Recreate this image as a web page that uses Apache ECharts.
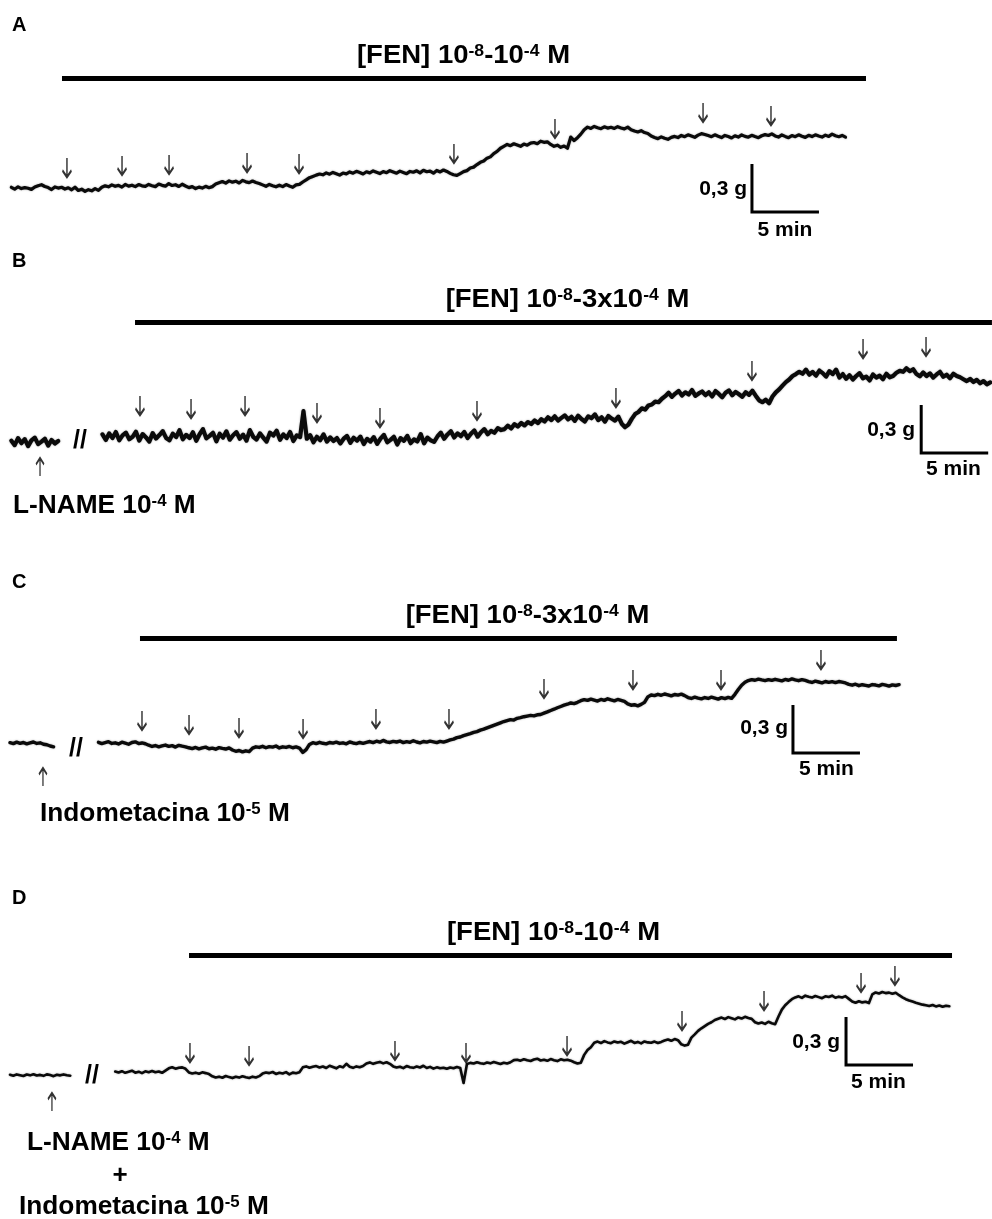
<!DOCTYPE html>
<html>
<head>
<meta charset="utf-8">
<script src="https://cdn.jsdelivr.net/npm/echarts@6/dist/echarts.min.js"></script>
<style>
  html, body { margin: 0; padding: 0; background: #ffffff; }
  #chart { width: 992px; height: 1219px; }
</style>
</head>
<body>
<div id="chart"></div>
<script>
// Isometric tension recordings of aortic rings, phenylephrine [FEN] cumulative curves.
// Tension in mg, sampled every STEP minutes.
const STEP = 0.25;

// ---- A: control ----
const startA = 0.1;
const traceA = [
  392,380,395,384,390,386,379,394,402,408,397,390,378,394,387,392,381,389,376,392,
  372,380,366,377,370,384,373,392,401,395,407,398,404,393,410,399,405,396,409,401,
  398,410,402,396,412,404,399,415,403,408,397,411,400,390,396,384,393,387,398,389,
  396,412,420,428,418,432,424,430,419,435,426,421,431,422,416,407,398,410,402,395,
  405,396,409,400,392,407,410,425,438,452,460,468,475,470,482,474,485,477,468,481,
  476,488,480,492,484,475,489,482,494,486,478,490,483,496,488,480,493,485,477,491,
  486,495,482,498,489,493,480,497,488,500,491,479,470,466,478,490,496,512,518,534,
  548,556,574,582,603,616,636,648,660,652,664,656,648,662,655,668,672,664,680,673,
  676,660,648,655,642,650,636,706,684,702,724,752,768,760,772,764,758,770,762,767,
  760,771,763,757,768,752,744,738,746,734,728,712,703,696,707,698,692,704,710,703,
  716,708,720,712,704,718,727,722,715,708,720,711,703,716,709,700,714,706,719,710,
  705,717,709,702,714,721,716,726,713,706,719,710,702,715,708,720,711,704,717,709,
  720,712,706,718,710,724,714,708,716,705
];
const arrowsA = [[4.25,456],[8.36,469],[11.87,475],[17.69,487],[21.57,481],[33.13,544],[40.67,700],[51.72,800],[56.79,781]];
const barA = [3.88, 63.88, 1072];      // drug period: start, end (min), drawn level (mg)
const scaleA = [55.37, 238];           // scale bar corner (min, mg)

// ---- B: L-NAME 10^-4 M ----
const startB0 = 0.1;
const baseB = [246,218,262,230,255,212,248,265,224,240,258,215,250,228,244];
const startB = 6.9;
const traceB = [
  285,250,291,262,300,248,279,296,255,270,302,246,287,266,240,293,259,281,305,263,
  248,290,268,311,254,282,262,298,245,286,318,260,276,295,242,289,265,304,252,280,
  299,258,283,246,312,270,253,291,265,240,296,278,308,251,285,262,300,244,279,268,
  430,258,280,236,270,249,285,240,266,244,262,228,258,275,232,264,246,271,225,257,
  240,268,226,259,282,236,251,270,222,262,245,276,230,254,241,287,229,265,248,238,
  272,296,258,285,305,266,291,274,300,262,289,310,271,298,318,286,307,295,324,312,
  318,340,322,349,334,356,341,362,350,372,356,380,366,392,375,398,372,388,404,379,
  395,370,402,381,366,398,386,410,374,392,365,400,384,371,396,352,330,346,382,412,
  425,448,440,466,472,490,486,508,524,545,520,540,556,528,548,534,562,526,541,553,
  530,548,522,556,538,517,545,560,529,551,536,520,549,532,558,527,498,486,502,480,
  522,548,566,590,612,628,650,662,676,664,690,658,675,652,684,668,646,680,662,690,
  640,662,632,655,628,650,668,636,646,622,660,640,652,630,664,642,650,670,682,676,
  698,680,692,662,648,672,650,666,640,660,676,645,658,636,664,650,642,630,618,632,
  612,626,604,618,598,610
];
const arrowsB = [[9.70,406],[13.51,387],[17.54,406],[22.91,362],[27.61,331],[34.85,375],[45.22,456],[55.37,625],[63.66,762],[68.36,775]];
const upB = [[2.24,137]];
const barB = [9.33, 73.28, 984];
const scaleB = [68.0, 169];

// ---- C: Indometacina 10^-5 M ----
const startC0 = 0.0;
const baseC = [296,290,299,292,297,288,294,300,291,295,286,283,275,270];
const startC = 6.6;
const traceC = [
  298,290,296,302,291,295,288,299,293,286,297,301,290,294,289,280,272,278,270,276,
  281,273,277,268,279,274,270,264,259,266,257,263,268,258,262,255,265,260,256,263,
  250,242,247,238,245,240,262,270,266,273,264,271,268,275,263,270,266,272,264,269,
  262,235,252,285,296,290,298,292,288,297,293,299,291,295,289,300,294,290,297,292,
  298,303,296,305,299,310,301,297,304,300,306,296,302,298,308,300,295,303,299,305,
  301,296,304,299,306,313,318,327,331,340,346,352,360,365,374,380,388,396,404,412,
  420,428,434,440,437,448,452,458,462,466,463,470,472,480,488,497,505,514,522,530,
  536,544,540,548,558,565,560,568,562,556,566,560,570,563,557,566,560,554,538,530,
  533,526,535,548,582,594,590,598,592,600,595,588,597,593,599,590,578,572,580,574,
  570,578,572,580,574,568,577,571,579,573,598,628,655,673,684,690,686,693,688,684,
  690,685,692,687,682,691,686,694,688,683,690,685,678,672,680,675,670,678,673,677,
  671,678,674,669,660,655,661,652,658,654,650,659,656,651,660,655,649,657,653,658
];
const arrowsC = [[9.85,375],[13.36,350],[17.09,331],[21.87,325],[27.31,387],[32.76,387],[39.85,575],[46.49,631],[53.06,631],[60.52,756]];
const upC = [[2.46,137]];
const barC = [9.70, 66.19, 947];
const scaleC = [58.43, 231];

// ---- D: L-NAME 10^-4 M + Indometacina 10^-5 M ----
const startD0 = 0.0;
const baseD = [158,152,160,155,150,159,154,161,153,157,151,160,156,149,158,154,160,155,152];
const startD = 7.85;
const traceD = [
  178,172,180,170,176,183,171,177,168,179,174,181,173,178,170,184,198,205,196,202,
  204,195,172,166,171,164,173,168,162,148,141,146,139,150,143,137,145,140,148,142,
  138,146,141,149,165,172,168,175,163,170,166,174,160,171,167,173,204,210,202,208,
  212,203,209,200,214,206,198,211,204,226,208,201,210,205,212,228,235,226,233,238,
  229,236,226,210,203,208,199,212,205,201,209,203,214,200,207,196,204,198,202,195,
  203,198,206,200,106,225,232,228,236,230,226,234,229,237,231,225,233,228,236,249,
  252,246,255,248,244,253,258,247,251,245,256,249,243,254,248,252,246,236,228,233,
  282,312,330,358,365,356,368,360,355,366,359,364,352,361,370,357,363,354,366,360,
  358,365,356,363,372,378,370,381,374,348,340,346,390,410,432,448,462,476,486,500,
  508,515,506,518,511,504,516,509,520,512,507,486,478,484,476,489,480,474,522,565,
  592,612,630,641,648,638,652,645,640,650,643,636,648,644,652,639,646,641,649,632,
  615,608,617,610,614,606,660,672,666,675,668,671,664,670,655,642,630,622,615,608,
  602,596,592,588,594,585,590,583,589,586
];
const arrowsD = [[13.43,237],[17.84,219],[28.73,250],[34.03,237],[41.57,281],[50.15,437],[56.27,562],[63.51,675],[66.04,719]];
const upD = [[3.13,44]];
const barD = [13.36, 70.3, 903];
const scaleD = [62.39, 219];

// Scale bar size
const SCALE_MIN = 5;     // 5 min
const SCALE_MG = 300;    // 0,3 g

// ---------------------------------------------------------------
const FONT = "'Liberation Sans', Arial, Helvetica, sans-serif";
const INK = '#0a0a0a';
const X_MAX = 982 / 13.4;   // minutes spanned by each panel

const panels = [
  { grid: { top: 66,  height: 184 }, ymax: 1150, lines: [[startA, traceA]],                 bar: barA, scale: scaleA, down: arrowsA, up: [],  width: 3.2 },
  { grid: { top: 312, height: 168 }, ymax: 1050, lines: [[startB0, baseB], [startB, traceB]], bar: barB, scale: scaleB, down: arrowsB, up: upB, width: 4.2 },
  { grid: { top: 630, height: 160 }, ymax: 1000, lines: [[startC0, baseC], [startC, traceC]], bar: barC, scale: scaleC, down: arrowsC, up: upC, width: 3.4 },
  { grid: { top: 948, height: 152 }, ymax: 950,  lines: [[startD0, baseD], [startD, traceD]], bar: barD, scale: scaleD, down: arrowsD, up: upD, width: 2.6 }
];

const toPairs = (start, vals) => vals.map((v, i) => [+(start + i * STEP).toFixed(3), v]);

const ARROW_DOWN = 'path://M5,0 L5,20 M1.5,13 L5,20 L8.5,13';
const ARROW_UP = 'path://M5,20 L5,0 M1.5,7 L5,0 L8.5,7';

const grids = [], xAxes = [], yAxes = [], series = [];
panels.forEach((p, i) => {
  grids.push({ left: 10, width: 982, top: p.grid.top, height: p.grid.height, containLabel: false });
  xAxes.push({ type: 'value', gridIndex: i, min: 0, max: X_MAX, show: false });
  yAxes.push({ type: 'value', gridIndex: i, min: 0, max: p.ymax, show: false });
  const common = { xAxisIndex: i, yAxisIndex: i, silent: true, animation: false, clip: false };
  p.lines.forEach(([start, vals]) => {
    series.push(Object.assign({
      type: 'line', data: toPairs(start, vals), showSymbol: false, symbol: 'none',
      lineStyle: { color: INK, width: p.width, join: 'round', cap: 'round', shadowColor: 'rgba(0,0,0,0.35)', shadowBlur: 2 }
    }, common));
  });
  // drug application bar
  series.push(Object.assign({
    type: 'line', data: [[p.bar[0], p.bar[2]], [p.bar[1], p.bar[2]]], showSymbol: false, symbol: 'none',
    lineStyle: { color: '#000', width: 5, cap: 'butt' }
  }, common));
  // calibration: 0,3 g vertical and 5 min horizontal
  const [sx, sy] = p.scale;
  series.push(Object.assign({
    type: 'line', data: [[sx, sy + SCALE_MG], [sx, sy], [sx + SCALE_MIN, sy]], showSymbol: false, symbol: 'none',
    lineStyle: { color: '#000', width: 3, cap: 'butt', join: 'miter' }
  }, common));
  // additions (down arrows) and pre-treatment (up arrow)
  series.push(Object.assign({
    type: 'scatter', data: p.down, symbol: ARROW_DOWN, symbolSize: [9, 19], symbolOffset: [0, '-50%'],
    itemStyle: { color: 'transparent', borderColor: '#000', borderWidth: 2.1 }
  }, common));
  if (p.up.length) {
    series.push(Object.assign({
      type: 'scatter', data: p.up, symbol: ARROW_UP, symbolSize: [8, 18], symbolOffset: [0, '50%'],
      itemStyle: { color: 'transparent', borderColor: '#000', borderWidth: 1.9 }
    }, common));
  }
});

// ---- text ----
function rich(main, sup) {
  return {
    m: { fontSize: main, fontWeight: 'bold', fontFamily: FONT, fill: '#000' },
    s: { fontSize: sup, fontWeight: 'bold', fontFamily: FONT, fill: '#000', verticalAlign: 'top' }
  };
}
function label(x, y, text, o) {
  o = o || {};
  const align = o.align || 'left';
  const style = {
    text: text, fill: '#000', fontFamily: FONT, fontWeight: 'bold', fontSize: o.size || 20,
    align: align, textAlign: align, verticalAlign: 'middle', textVerticalAlign: 'middle'
  };
  if (o.rich) style.rich = o.rich;
  return { type: 'text', x: x, y: y, scaleX: o.sx || 1, silent: true, style: style };
}

const titleRich = rich(25, 16);
const noteRich = rich(25, 16);
const graphic = [
  label(12, 25, 'A', { size: 20 }),
  label(12, 261.5, 'B', { size: 20 }),
  label(12, 582, 'C', { size: 20 }),
  label(12, 898.5, 'D', { size: 20 }),

  label(463.5, 56, '{m|[FEN] 10}{s|-8}{m|-10}{s|-4}{m| M}', { align: 'center', rich: titleRich, sx: 1.1 }),
  label(567.5, 300, '{m|[FEN] 10}{s|-8}{m|-3x10}{s|-4}{m| M}', { align: 'center', rich: titleRich, sx: 1.1 }),
  label(527.5, 616, '{m|[FEN] 10}{s|-8}{m|-3x10}{s|-4}{m| M}', { align: 'center', rich: titleRich, sx: 1.1 }),
  label(553.5, 933, '{m|[FEN] 10}{s|-8}{m|-10}{s|-4}{m| M}', { align: 'center', rich: titleRich, sx: 1.1 }),

  label(80, 441, '//', { align: 'center', size: 25 }),
  label(76, 749, '//', { align: 'center', size: 25 }),
  label(92, 1076, '//', { align: 'center', size: 25 }),

  label(13, 506, '{m|L-NAME 10}{s|-4}{m| M}', { rich: noteRich, sx: 1.05 }),
  label(40, 814, '{m|Indometacina 10}{s|-5}{m| M}', { rich: noteRich, sx: 1.05 }),
  label(27, 1143, '{m|L-NAME 10}{s|-4}{m| M}', { rich: noteRich, sx: 1.05 }),
  label(120, 1176, '+', { align: 'center', size: 26 }),
  label(19, 1207, '{m|Indometacina 10}{s|-5}{m| M}', { rich: noteRich, sx: 1.05 }),

  label(747, 189.5, '0,3 g', { align: 'right', size: 20, sx: 1.05 }),
  label(785, 230, '5 min', { align: 'center', size: 20, sx: 1.05 }),
  label(915, 430, '0,3 g', { align: 'right', size: 20, sx: 1.05 }),
  label(953.5, 469.5, '5 min', { align: 'center', size: 20, sx: 1.05 }),
  label(788, 728, '0,3 g', { align: 'right', size: 20, sx: 1.05 }),
  label(826.5, 769, '5 min', { align: 'center', size: 20, sx: 1.05 }),
  label(840, 1042, '0,3 g', { align: 'right', size: 20, sx: 1.05 }),
  label(878.5, 1082, '5 min', { align: 'center', size: 20, sx: 1.05 })
];

const chart = echarts.init(document.getElementById('chart'), null, { renderer: 'canvas' });
chart.setOption({
  animation: false,
  backgroundColor: '#ffffff',
  grid: grids,
  xAxis: xAxes,
  yAxis: yAxes,
  series: series,
  graphic: graphic
});
</script>
</body>
</html>
